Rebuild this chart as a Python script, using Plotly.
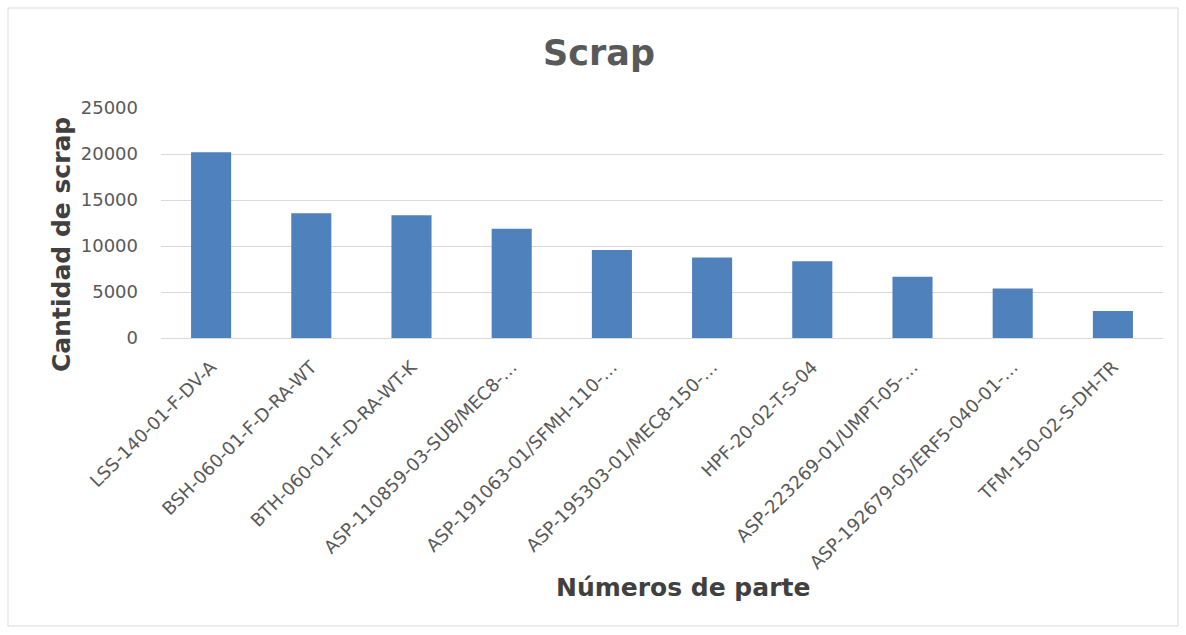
import plotly.graph_objects as go

categories = [
    "LSS-140-01-F-DV-A",
    "BSH-060-01-F-D-RA-WT",
    "BTH-060-01-F-D-RA-WT-K",
    "ASP-110859-03-SUB/MEC8-…",
    "ASP-191063-01/SFMH-110-…",
    "ASP-195303-01/MEC8-150-…",
    "HPF-20-02-T-S-04",
    "ASP-223269-01/UMPT-05-…",
    "ASP-192679-05/ERF5-040-01-…",
    "TFM-150-02-S-DH-TR",
]
scrap_values = [20200, 13550, 13330, 11880, 9570, 8760, 8330, 6660, 5390, 2940]
y_ticks = [0, 5000, 10000, 15000, 20000, 25000]

W, H = 1186, 635
L, R, T, B = 161, 23, 108, 297
pw, ph = W - L - R, H - T - B

def px(x):
    return (x - L) / pw

def py(y):
    return (H - B - y) / ph

TICKFONT = dict(size=18, color="#595959", family="DejaVu Sans, sans-serif")
BOLD = "DejaVu Sans, Liberation Sans, Arial"

fig = go.Figure(
    go.Bar(x=categories, y=scrap_values, marker=dict(color="#4f81bd", line=dict(width=0)))
)

fig.update_layout(
    width=W, height=H,
    margin=dict(l=L, r=R, t=T, b=B),
    paper_bgcolor="white", plot_bgcolor="white",
    bargap=0.6,
    showlegend=False,
    title=dict(text="<b>Scrap</b>", x=px(599), xanchor="center", xref="paper",
               y=1 - 53 / H, yanchor="middle", yref="container",
               font=dict(family=BOLD, size=35, color="#595959")),
)
fig.update_xaxes(
    tickangle=-45, tickfont=TICKFONT, ticklabelstandoff=14,
    showgrid=False, showline=False, ticks="",
)
fig.update_yaxes(
    range=[0, 25000], tickvals=y_ticks, ticktext=[str(v) for v in y_ticks],
    tickfont=TICKFONT,
    showgrid=True, gridcolor="#d9d9d9", gridwidth=1, zeroline=True, zerolinecolor="#d9d9d9",
    zerolinewidth=1, showline=False, ticks="", ticklabelstandoff=22,
)

fig.add_annotation(text="<b>Cantidad de scrap</b>", textangle=-90, xref="paper", yref="paper",
                   x=px(61), y=py(245), xanchor="center", yanchor="middle", showarrow=False,
                   font=dict(family=BOLD, size=25, color="#404040"))
fig.add_annotation(text="<b>Números de parte</b>", xref="paper", yref="paper",
                   x=px(683), y=py(587), xanchor="center", yanchor="middle", showarrow=False,
                   font=dict(family=BOLD, size=25, color="#404040"))

fig.add_shape(type="rect", xref="paper", yref="paper",
              x0=px(8), x1=px(1178), y0=py(626), y1=py(8),
              line=dict(color="#d9d9d9", width=1), fillcolor="rgba(0,0,0,0)", layer="below")

fig.write_html("out.html")
